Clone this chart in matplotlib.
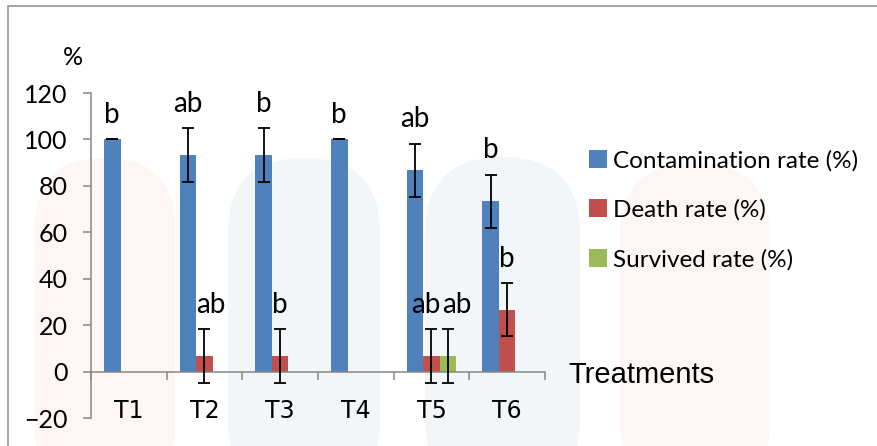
import numpy as np
import matplotlib
matplotlib.use("Agg")
import matplotlib.pyplot as plt
from matplotlib.patches import FancyBboxPatch, Rectangle

# data
treatments = ["T1", "T2", "T3", "T4", "T5", "T6"]
contamination = [100, 93.3, 93.3, 100, 86.7, 73.3]
contamination_err = [0, 11.5, 11.5, 0, 11.5, 11.5]
death = [0, 6.7, 6.7, 0, 6.7, 26.7]
death_err = [0, 11.5, 11.5, 0, 11.5, 11.5]
survived = [0, 0, 0, 0, 6.7, 0]
survived_err = [0, 0, 0, 0, 11.5, 0]
contamination_letters = ["b", "ab", "b", "b", "ab", "b"]
death_letters = ["", "ab", "b", "", "ab", "b"]
survived_letters = ["", "", "", "", "ab", ""]

BLUE = "#4F81BD"
RED = "#C0504D"
GREEN = "#9BBB59"
GREY = "#868686"
FONT = "Lato"

W, H = 878, 446
fig = plt.figure(figsize=(W / 100, H / 100), dpi=100)
fig.patch.set_facecolor("white")


def px(x, y):
    # pixel position (from top-left) -> inches for dpi_scale_trans
    return x / 100, (H - y) / 100


# faint watermark behind the chart
for x0, x1, top, col in [(35, 175, 158, "#FEF5F5"), (228, 380, 158, "#F2F6F9"),
                         (425, 580, 157, "#F2F6F9"), (620, 770, 163, "#FEF5F5")]:
    bx, by = px(x0, H + 50)
    wdt = (x1 - x0) / 100
    hgt = (H + 50 - top) / 100
    fig.patches.append(FancyBboxPatch(
        (bx, by), wdt, hgt, boxstyle=f"round,pad=0,rounding_size={wdt / 2}",
        transform=fig.dpi_scale_trans, facecolor=col, edgecolor="none", zorder=-5))

# outer chart border (only left and top are visible)
bx, by = px(8, H + 20)
fig.patches.append(Rectangle((bx, by), 10, (H + 20 - 6) / 100, transform=fig.dpi_scale_trans,
                             facecolor="none", edgecolor="#8C8C8C", lw=1.1, zorder=-4))

ax = fig.add_axes([91 / W, 1 - 418 / H, 454 / W, 325 / H])
ax.set_facecolor("none")
ax.set_zorder(2)

x = np.arange(len(treatments))
w = 0.22
series = [
    (contamination, contamination_err, contamination_letters, BLUE, -w, "Contamination rate (%)"),
    (death, death_err, death_letters, RED, 0, "Death rate (%)"),
    (survived, survived_err, survived_letters, GREEN, w, "Survived rate (%)"),
]
nudge = {(1, 1): 0.09, (1, 4): -0.07, (2, 4): 0.11}

for si, (vals, errs, letters, col, off, lab) in enumerate(series):
    vals = np.array(vals)
    errs = np.array(errs)
    ax.bar(x + off, vals, width=w, color=col, label=lab, zorder=2)
    show = (vals > 0) | (si == 0)
    ax.errorbar(x[show] + off, vals[show], yerr=errs[show], fmt="none",
                ecolor="black", elinewidth=1.3, capsize=4, capthick=1.3, zorder=3)
    for i, t in enumerate(letters):
        if t:
            ax.text(x[i] + off + nudge.get((si, i), 0), vals[i] + errs[i] + 7, t,
                    ha="center", va="baseline", fontsize=20, family=FONT)

ax.set_xlim(-0.5, len(treatments) - 0.5)
ax.set_ylim(-20, 120)
ax.set_yticks(range(-20, 121, 20))
ax.tick_params(axis="y", length=6, width=1.1, color=GREY, pad=11, labelsize=18)

ax.set_xticks(x)
ax.set_xticklabels(treatments)
ax.tick_params(axis="x", which="major", length=0, pad=20, labelsize=17)
ax.set_xticks(np.arange(-0.5, len(treatments)), minor=True)
ax.tick_params(axis="x", which="minor", length=6, width=1.1, color=GREY, direction="out")
for t in ax.get_yticklabels() + ax.get_xticklabels():
    t.set_family(FONT)

for s in ["top", "right"]:
    ax.spines[s].set_visible(False)
ax.spines["bottom"].set_position(("data", 0))
ax.spines["bottom"].set_color(GREY)
ax.spines["left"].set_color(GREY)
ax.spines["bottom"].set_linewidth(1.1)
ax.spines["left"].set_linewidth(1.1)

fig.text(73 / W, 1 - 58 / H, "%", ha="center", va="center", fontsize=18, family=FONT)
fig.text(568 / W, 1 - 375 / H, "Treatments", ha="left", va="center", fontsize=21,
         family="Liberation Sans")

leg = fig.legend(loc="upper left", bbox_to_anchor=(567 / W, 1 - 128 / H), frameon=False,
                 handlelength=0.75, handleheight=0.75, handletextpad=0.25,
                 labelspacing=1.15, prop={"family": FONT, "size": 17.5})
leg.set_zorder(3)

fig.savefig("out.png", dpi=100)
